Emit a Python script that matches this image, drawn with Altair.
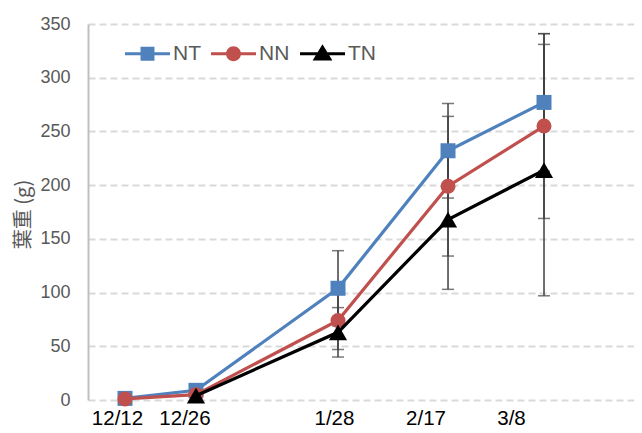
import altair as alt
import pandas as pd

# ---- data ----
dates = ["12/12", "12/26", "1/28", "2/17", "3/8"]
x_pos = [7.34, 21.42, 49.59, 71.41, 90.45]        # x value of each sampling date
label_pos = [5.75, 19.14, 48.79, 66.94, 83.9]     # where the date labels sit

series = ["NT", "NN", "TN"]
nt = [1.5, 9, 104, 232, 277]
nn = [1, 5, 74, 199, 255]
tn = [None, 4, 63, 168, 214]
nt_sd = [1, 2, 35, 44, 64]
nn_sd = [0.5, 2, 27, 65, 86]
tn_sd = [None, 2, 23, 65, 117]

colors = ["#4F81BD", "#C0504D", "#000000"]
shapes = ["square", "circle", "triangle-up"]
sizes = [225, 225, 330]

# legend symbols: line + marker, drawn in the unit box [-1, 1]
line_path = "M-1,-0.067H1V0.067H-1Z"
legend_paths = [
    line_path + "M-0.31,-0.31H0.31V0.31H-0.31Z",
    line_path + "M-0.33,0A0.33,0.33,0,1,1,0.33,0A0.33,0.33,0,1,1,-0.33,0Z",
    line_path + "M0,-0.42L0.44,0.3L-0.44,0.3Z",
]

rows = []
for s, vals, sds in zip(series, [nt, nn, tn], [nt_sd, nn_sd, tn_sd]):
    for d, xp, v, sd in zip(dates, x_pos, vals, sds):
        if v is None:
            continue
        rows.append({"series": s, "date": d, "x": xp, "y": v, "sd": sd})
df = pd.DataFrame(rows)

label_expr = "{}[indexof({}, datum.value)]".format(
    "[" + ",".join("'%s'" % d for d in dates) + "]",
    "[" + ",".join(str(p) for p in label_pos) + "]",
)

x_enc = alt.X(
    "x:Q",
    scale=alt.Scale(domain=[0, 108.3], nice=False, zero=False),
    axis=alt.Axis(
        values=label_pos,
        labelExpr=label_expr,
        grid=False,
        domain=False,
        ticks=False,
        title=None,
        labelFontSize=20.5,
        labelColor="#000000",
        labelPadding=8,
        labelFlush=False,
        labelOverlap=False,
    ),
)
y_scale = alt.Scale(domain=[0, 350], nice=False)
y_axis = alt.Axis(
    values=list(range(0, 351, 50)),
    title="葉重 (g)",
    titleFont="Noto Sans CJK JP",
    titleFontSize=20,
    titleFontWeight="normal",
    titleColor="#595959",
    titleX=-55,
    titleY=190,
    labelFontSize=18,
    labelColor="#595959",
    labelPadding=18,
    ticks=False,
    domainColor="#BFBFBF",
    domainWidth=2,
    grid=True,
    gridColor="#D9D9D9",
    gridWidth=2,
    gridDash=[7, 4],
)

base = alt.Chart(df)

err = base.transform_calculate(
    lo="datum.y - datum.sd", hi="datum.y + datum.sd"
)
err_rule = err.mark_rule(color="#404040", strokeWidth=1.5).encode(
    x=x_enc,
    y=alt.Y("lo:Q", scale=y_scale, axis=y_axis),
    y2="hi:Q",
)
err_caps = err.transform_fold(["lo", "hi"], as_=["end", "val"]).mark_tick(
    color="#404040", orient="horizontal", size=12, thickness=1.5
).encode(
    x="x:Q",
    y=alt.Y("val:Q", scale=y_scale),
)

layers = [err_rule, err_caps]
for s, c, sh, sz in zip(series, colors, shapes, sizes):
    sub = base.transform_filter(alt.datum.series == s)
    layers.append(
        sub.mark_line(color=c, strokeWidth=3.2).encode(
            x="x:Q", y=alt.Y("y:Q", scale=y_scale)
        )
    )
    layers.append(
        sub.mark_point(filled=True, shape=sh, size=sz, color=c, opacity=1).encode(
            x="x:Q", y=alt.Y("y:Q", scale=y_scale)
        )
    )

legend_def = alt.Legend(
    title=None,
    orient="none",
    legendX=37,
    legendY=7,
    direction="horizontal",
    symbolSize=2025,
    symbolStrokeWidth=0,
    labelFontSize=21,
    labelColor="#595959",
    labelOffset=3,
    columnPadding=10,
    padding=0,
)
legend_layer = base.transform_filter("false").mark_point(filled=True, opacity=1).encode(
    x="x:Q",
    y=alt.Y("y:Q", scale=y_scale),
    color=alt.Color("series:N", scale=alt.Scale(domain=series, range=colors), legend=legend_def),
    shape=alt.Shape("series:N", scale=alt.Scale(domain=series, range=legend_paths), legend=legend_def),
)
layers.append(legend_layer)

chart = (
    alt.layer(*layers)
    .properties(
        width=546,
        height=376,
        autosize=alt.AutoSizeParams(type="none"),
        padding={"left": 80, "top": 16, "right": 0, "bottom": 30},
    )
    .configure(font="Liberation Sans")
    .configure_view(stroke=None)
)

chart.save("out.html", embed_options={"renderer": "svg", "actions": False})
